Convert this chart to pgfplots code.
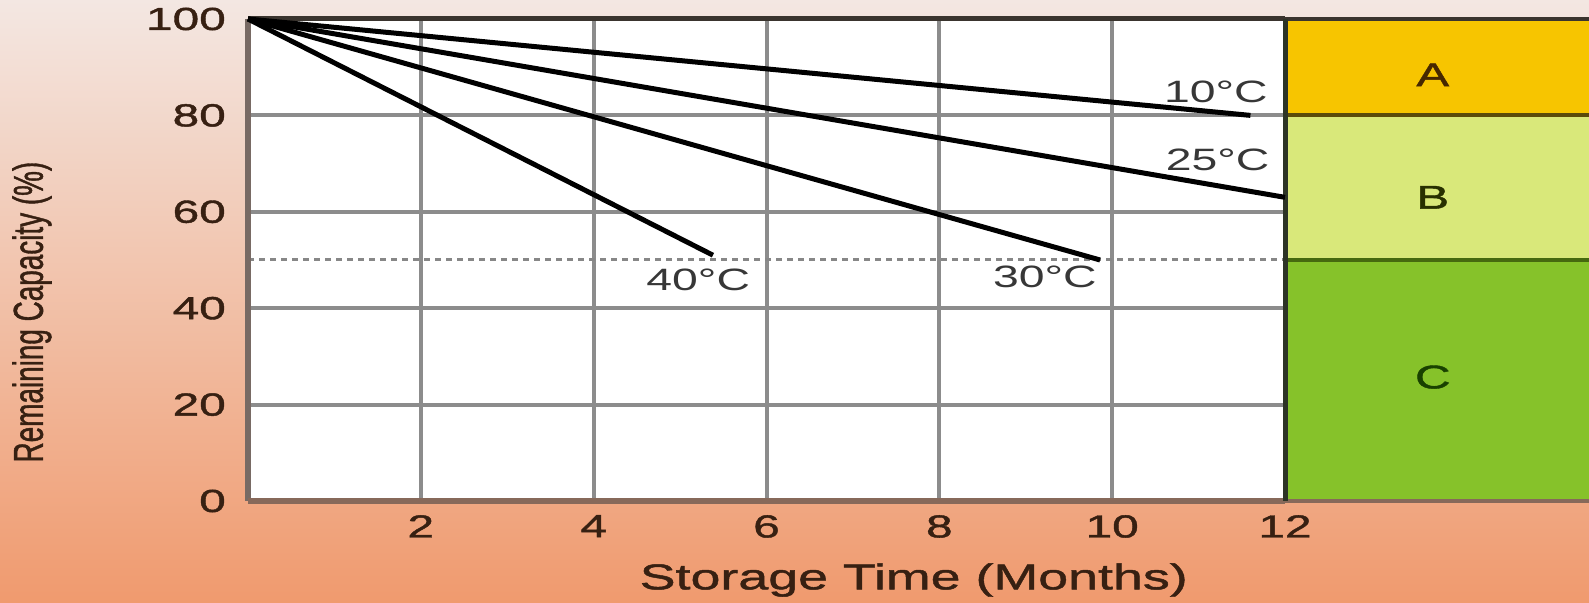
\documentclass[border=0pt]{standalone}
\usepackage{pgfplots}
\pgfplotsset{compat=1.18}
\usepackage{fontspec}
\setmainfont{Liberation Sans}[FakeStretch=1.5]
\newfontfamily\boldish{Liberation Sans}[FakeStretch=1.5, FakeBold=1.3]
\newfontfamily\plainsans{Liberation Sans}[FakeBold=1.3]
\definecolor{bgtop}{RGB}{243,231,226}
\definecolor{bgmid}{RGB}{240,188,162}
\definecolor{bgbot}{RGB}{240,154,110}
\definecolor{gridgray}{RGB}{140,140,140}
\definecolor{colA}{RGB}{247,197,0}
\definecolor{colB}{RGB}{217,232,122}
\definecolor{colC}{RGB}{134,194,42}
\definecolor{txtbrown}{RGB}{55,32,18}
\definecolor{leftline}{RGB}{120,106,100}
\definecolor{botline}{RGB}{135,105,90}
\definecolor{topline}{RGB}{58,52,46}
\definecolor{rightline}{RGB}{45,52,38}
\begin{document}
\begin{tikzpicture}
\path[use as bounding box] (0,0) rectangle (1589bp,603bp);
\shade[top color=bgtop, middle color=bgmid, bottom color=bgbot] (0,0) rectangle (1589bp,603bp);
\begin{axis}[
  at={(248bp,102bp)}, anchor=south west,
  scale only axis, width=1037bp, height=482bp,
  xmin=0, xmax=12, ymin=0, ymax=100,
  xtick={2,4,6,8,10,12}, ytick={0,20,40,60,80,100},
  major tick length=0pt,
  grid=major,
  major grid style={line width=4bp, color=gridgray},
  axis background/.style={fill=white},
  axis line style={draw=none},
  clip=false,
  /pgf/number format/assume math mode=true,
  tick label style={font=\boldish\fontsize{32}{34}\selectfont, text=txtbrown, inner sep=0pt},
  xticklabel style={anchor=north, yshift=-14bp},
  yticklabel style={anchor=east, xshift=-22bp},
  xlabel={Storage Time (Months)},
  xlabel style={at={(axis description cs:0.642,-0.164)}, anchor=center, font=\boldish\fontsize{36}{38}\selectfont, text=txtbrown},
  ylabel={\scalebox{1}[1.5]{\fontsize{28}{30}\plainsans Remaining Capacity (\%)}},
  ylabel style={at={(axis description cs:-0.2083,0.392)}, anchor=center, text=txtbrown},
]
% right panel
\fill[colA] (axis cs:12,80) rectangle (axis cs:15.8,100);
\fill[colB] (axis cs:12,50) rectangle (axis cs:15.8,80);
\fill[colC] (axis cs:12,0) rectangle (axis cs:15.8,50);
\draw[line width=4bp, color={rgb,255:red,90;green,75;blue,10}] (axis cs:12,80) -- (axis cs:15.8,80);
\draw[line width=4bp, color={rgb,255:red,70;green,105;blue,15}] (axis cs:12,50) -- (axis cs:15.8,50);
\draw[line width=4bp, color=topline] (axis cs:12,100) -- (axis cs:15.8,100);
\draw[line width=4bp, color=botline] (axis cs:12,0) -- (axis cs:15.8,0);
\node[font=\boldish\fontsize{33}{35}\selectfont, text={rgb,255:red,70;green,40;blue,0}] at (axis cs:13.71,88.4) {A};
\node[font=\boldish\fontsize{33}{35}\selectfont, text={rgb,255:red,40;green,48;blue,0}] at (axis cs:13.71,63) {B};
\node[font=\boldish\fontsize{33}{35}\selectfont, text={rgb,255:red,25;green,65;blue,0}] at (axis cs:13.71,25.7) {C};
% 50 percent reference line
\draw[line width=3bp, color={rgb,255:red,135;green,135;blue,135}, dash pattern=on 6bp off 5bp] (axis cs:0,50) -- (axis cs:12,50);
% frame
\draw[line width=5bp, color=leftline] (axis cs:0,0) -- (axis cs:0,100);
\draw[line width=5bp, color=botline] (axis cs:0,0) -- (axis cs:12,0);
\draw[line width=5bp, color=topline] (axis cs:0,100) -- (axis cs:12,100);
\draw[line width=5bp, color=rightline] (axis cs:12,0) -- (axis cs:12,100);
% curves
\addplot[black, line width=5bp] coordinates {(0,100) (11.6,80)};
\addplot[black, line width=5bp] coordinates {(0,100) (12,63)};
\addplot[black, line width=5bp] coordinates {(0,100) (9.86,50)};
\addplot[black, line width=5bp] coordinates {(0,100) (5.38,51)};
% curve labels
\node[font=\fontsize{31}{33}\selectfont, text={rgb,255:red,55;green,55;blue,55}] at (axis cs:11.2,84.8) {10°C};
\node[font=\fontsize{31}{33}\selectfont, text={rgb,255:red,55;green,55;blue,55}] at (axis cs:11.22,70.8) {25°C};
\node[font=\fontsize{31}{33}\selectfont, text={rgb,255:red,55;green,55;blue,55}] at (axis cs:5.21,45.8) {40°C};
\node[font=\fontsize{31}{33}\selectfont, text={rgb,255:red,55;green,55;blue,55}] at (axis cs:9.22,46.4) {30°C};
\end{axis}
\end{tikzpicture}
\end{document}
